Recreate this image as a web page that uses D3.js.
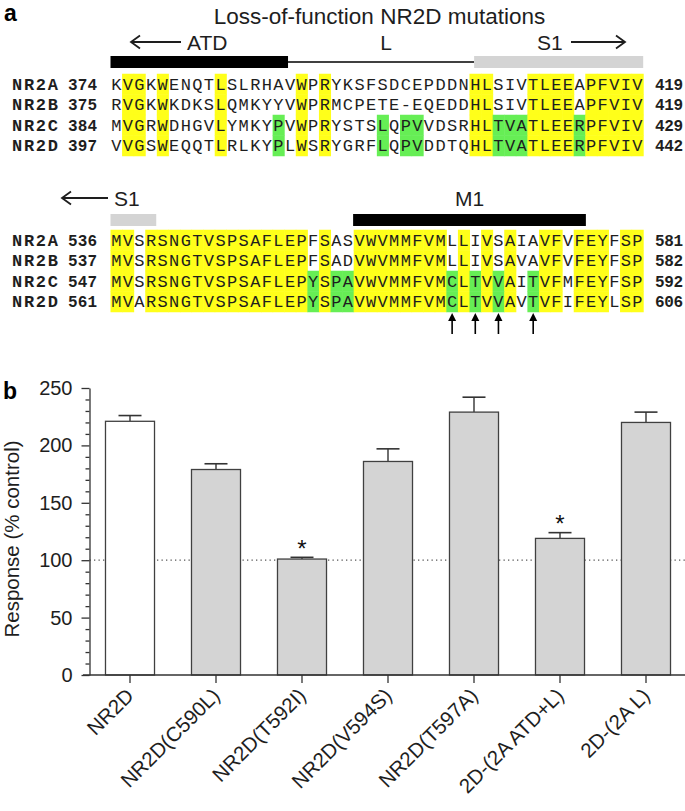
<!DOCTYPE html>
<html><head><meta charset="utf-8">
<script src="https://cdn.jsdelivr.net/npm/d3@7/dist/d3.min.js"></script>
<style>body{margin:0;background:#fff}svg{display:block}</style>
</head><body>
<svg id="c" width="685" height="811"></svg>
<script>
// ---------- DATA ----------
const rowNames = ["NR2A", "NR2B", "NR2C", "NR2D"];
const block1Starts = [374, 375, 384, 397];
const block1Ends = [419, 419, 429, 442];
const block1Seqs = [
  "KVGKWENQTLSLRHAVWPRYKSFSDCEPDDNHLSIVTLEEAPFVIV",
  "RVGKWKDKSLQMKYYVWPRMCPETE-EQEDDHLSIVTLEEAPFVIV",
  "MVGRWDHGVLYMKYPVWPRYSTSLQPVVDSRHLTVATLEERPFVIV",
  "VVGSWEQQTLRLKYPLWSRYGRFLQPVDDTQHLTVATLEERPFVIV"
];
const block1Yellow = [2, 3, 5, 10, 17, 19, 32, 33, 37, 38, 39, 40, 42, 43, 44, 45, 46];
const block1Green = [15, 24, 26, 27, 34, 35, 36, 41];
const block1Domains = [
  {name: "ATD", kind: "black", from: 0, to: 15.33},
  {name: "L", kind: "line", from: 15.33, to: 31.4},
  {name: "S1", kind: "gray", from: 31.4, to: 46}
];

const block2Starts = [536, 537, 547, 561];
const block2Ends = [581, 582, 592, 606];
const block2Seqs = [
  "MVSRSNGTVSPSAFLEPFSASVWVMMFVMLLIVSAIAVFVFEYFSP",
  "MVSRSNGTVSPSAFLEPFSADVWVMMFVMLLIVSAVAVFVFEYFSP",
  "MVSRSNGTVSPSAFLEPYSPAVWVMMFVMCLTVVAITVFMFEYFSP",
  "MVARSNGTVSPSAFLEPYSPAVWVMMFVMCLTVVAVTVFIFEYLSP"
];
const block2Yellow = [1, 2, 4, 5, 6, 7, 8, 9, 10, 11, 12, 13, 14, 15, 16, 17, 19,
  22, 23, 24, 25, 26, 27, 28, 29, 31, 33, 35, 38, 39, 41, 42, 43, 45, 46];
const block2Green = [18, 20, 21, 30, 32, 34, 37];
const block2Domains = [
  {name: "S1", kind: "gray", from: 0, to: 3.95},
  {name: "M1", kind: "black", from: 20.95, to: 41.05}
];
const mutationCols = [30, 32, 34, 37];

const categories = ["NR2D", "NR2D(C590L)", "NR2D(T592I)", "NR2D(V594S)", "NR2D(T597A)", "2D-(2A ATD+L)", "2D-(2A L)"];
const responseValues = [221, 179, 101, 186, 229, 119, 220];
const responseErrors = [5, 5, 1.5, 11, 13, 5, 9];
const significant = [false, false, true, false, false, true, false];
const yTickValues = [0, 50, 100, 150, 200, 250];
const controlLevel = 100;

// ---------- STYLE ----------
const SANS = "'Liberation Sans', Arial, Helvetica, sans-serif";
const MONO = "'Liberation Mono', 'Courier New', monospace";
const YELLOW = "#ffff1a";
const GREEN = "#66ee55";
const GRAYBAR = "#d4d4d4";
const TXT = "#1e1e1e";

const svg = d3.select("#c");

// ---------- PANEL A ----------
svg.append("text").attr("x", 4).attr("y", 21).attr("font-family", SANS)
  .attr("font-weight", "bold").attr("font-size", 23).attr("fill", "#000").text("a");
svg.append("text").attr("x", 379.5).attr("y", 24).attr("text-anchor", "middle")
  .attr("font-family", SANS).attr("font-size", 22.5).attr("fill", TXT)
  .text("Loss-of-function NR2D mutations");

const colX = d3.scaleLinear().domain([0, 46]).range([110.5, 643.2]);
const cw = colX(1) - colX(0);

function arrow(g, x1, x2, y, dir) {
  g.append("line").attr("x1", x1).attr("x2", x2).attr("y1", y).attr("y2", y)
    .attr("stroke", TXT).attr("stroke-width", 1.8);
  const hx = dir < 0 ? x1 : x2;
  const s = dir < 0 ? 1 : -1;
  g.append("path").attr("d", `M${hx + s * 9},${y - 6.5}L${hx},${y}L${hx + s * 9},${y + 6.5}`)
    .attr("fill", "none").attr("stroke", TXT).attr("stroke-width", 1.8);
}

function drawBlock(seqs, starts, ends, yellow, green, rowTop, rowBottom, domains, barY) {
  const g = svg.append("g");
  const rowY = d3.scaleLinear().domain([0, 3]).range([rowTop, rowBottom]);
  const rowH = (rowBottom - rowTop) / 3;
  domains.forEach(d => {
    if (d.kind === "line") {
      g.append("line").attr("x1", colX(d.from)).attr("x2", colX(d.to))
        .attr("y1", barY + 6).attr("y2", barY + 6).attr("stroke", "#000").attr("stroke-width", 1.5);
    } else {
      g.append("rect").attr("x", colX(d.from)).attr("y", barY).attr("width", colX(d.to) - colX(d.from))
        .attr("height", 12).attr("fill", d.kind === "black" ? "#000" : GRAYBAR);
    }
  });
  seqs.forEach((s, r) => {
    const y = rowY(r);
    s.split("").forEach((ch, i) => {
      const c = i + 1;
      let fill = null;
      if (r >= 2 && green.includes(c)) fill = GREEN;
      else if (yellow.includes(c)) fill = YELLOW;
      if (fill) g.append("rect").attr("x", colX(i)).attr("y", y - rowH / 2)
        .attr("width", cw + 0.5).attr("height", rowH + 0.5).attr("fill", fill);
    });
  });
  seqs.forEach((s, r) => {
    const y = rowY(r) + 5.8;
    g.append("text").attr("x", 12).attr("y", y).attr("font-family", MONO).attr("font-weight", "bold")
      .attr("font-size", 17).attr("textLength", 46).attr("lengthAdjust", "spacing").attr("fill", TXT).text(rowNames[r]);
    g.append("text").attr("x", 68).attr("y", y).attr("font-family", MONO).attr("font-weight", "bold")
      .attr("font-size", 16).attr("textLength", 29).attr("lengthAdjust", "spacing").attr("fill", TXT).text(starts[r]);
    g.append("text").attr("x", 655).attr("y", y).attr("font-family", MONO).attr("font-weight", "bold")
      .attr("font-size", 16).attr("textLength", 28).attr("lengthAdjust", "spacing").attr("fill", TXT).text(ends[r]);
    s.split("").forEach((ch, i) => {
      g.append("text").attr("x", colX(i) + cw / 2).attr("y", y).attr("text-anchor", "middle")
        .attr("font-family", MONO).attr("font-size", 17).attr("fill", TXT).text(ch);
    });
  });
  return rowY;
}

// block 1
drawBlock(block1Seqs, block1Starts, block1Ends, block1Yellow, block1Green, 84, 145.5, block1Domains, 56);
const g1 = svg.append("g").attr("font-family", SANS).attr("font-size", 21).attr("fill", TXT);
arrow(g1, 131, 181, 42, -1);
g1.append("text").attr("x", 187).attr("y", 49.5).text("ATD");
g1.append("text").attr("x", 386).attr("y", 49.5).attr("text-anchor", "middle").text("L");
g1.append("text").attr("x", 537).attr("y", 49.5).text("S1");
arrow(g1, 571, 625, 42, 1);

// block 2
drawBlock(block2Seqs, block2Starts, block2Ends, block2Yellow, block2Green, 240, 301.5, block2Domains, 214);
const g2 = svg.append("g").attr("font-family", SANS).attr("font-size", 21).attr("fill", TXT);
arrow(g2, 62, 108, 198, -1);
g2.append("text").attr("x", 114).attr("y", 205.5).text("S1");
g2.append("text").attr("x", (colX(block2Domains[1].from) + colX(block2Domains[1].to)) / 2).attr("y", 205.5)
  .attr("text-anchor", "middle").text("M1");
mutationCols.forEach(c => {
  const x = colX(c - 1) + cw / 2;
  g2.append("line").attr("x1", x).attr("x2", x).attr("y1", 334).attr("y2", 320)
    .attr("stroke", "#000").attr("stroke-width", 1.6);
  g2.append("path").attr("d", `M${x - 4},321L${x},313L${x + 4},321Z`).attr("fill", "#000");
});

// ---------- PANEL B ----------
svg.append("text").attr("x", 3).attr("y", 399).attr("font-family", SANS)
  .attr("font-weight", "bold").attr("font-size", 23).attr("fill", "#000").text("b");

const x = d3.scaleBand().domain(categories).range([87, 689]).paddingInner(0.43).paddingOuter(0.215);
const y = d3.scaleLinear().domain([0, 250]).range([675, 388]);
const axisX = 89.5;

const gb = svg.append("g");
gb.append("line").attr("x1", axisX).attr("x2", 685).attr("y1", y(controlLevel)).attr("y2", y(controlLevel))
  .attr("stroke", "#555").attr("stroke-width", 1.2).attr("stroke-dasharray", "1.3,3.2");

categories.forEach((c, i) => {
  const cx = x(c) + x.bandwidth() / 2;
  const top = y(responseValues[i] + responseErrors[i]);
  gb.append("line").attr("x1", cx).attr("x2", cx).attr("y1", y(responseValues[i])).attr("y2", top)
    .attr("stroke", "#333").attr("stroke-width", 1.4);
  gb.append("line").attr("x1", cx - 11.5).attr("x2", cx + 11.5).attr("y1", top).attr("y2", top)
    .attr("stroke", "#333").attr("stroke-width", 1.6);
});

gb.selectAll("rect.bar").data(categories).enter().append("rect")
  .attr("x", d => x(d)).attr("width", x.bandwidth())
  .attr("y", (d, i) => y(responseValues[i]))
  .attr("height", (d, i) => y(0) - y(responseValues[i]))
  .attr("fill", (d, i) => i === 0 ? "#fff" : GRAYBAR)
  .attr("stroke", "#404040").attr("stroke-width", 1.3);

categories.forEach((c, i) => {
  if (!significant[i]) return;
  gb.append("text").attr("x", x(c) + x.bandwidth() / 2)
    .attr("y", y(responseValues[i] + responseErrors[i]) - 0.5)
    .attr("text-anchor", "middle").attr("font-family", SANS).attr("font-size", 24).attr("fill", "#111").text("*");
});

const yAxisG = svg.append("g").attr("transform", `translate(${axisX},0)`)
  .call(d3.axisLeft(y).tickValues(yTickValues).tickSize(8).tickSizeOuter(0).tickPadding(9));
svg.append("g").attr("transform", `translate(${axisX},0)`)
  .call(d3.axisLeft(y).tickValues(d3.range(0, 251, 10).filter(v => v % 50 !== 0)).tickSize(4).tickFormat(""))
  .select(".domain").remove();
svg.selectAll(".tick line, .domain").attr("stroke", "#333").attr("stroke-width", 1.3);
yAxisG.selectAll("text").attr("font-family", SANS).attr("font-size", 20).attr("fill", TXT);

svg.append("line").attr("x1", 83).attr("x2", 685).attr("y1", y(0)).attr("y2", y(0))
  .attr("stroke", "#333").attr("stroke-width", 1.4);
const xAxisG = svg.append("g").attr("transform", `translate(0,${y(0)})`)
  .call(d3.axisBottom(x).tickSize(8).tickSizeOuter(0));
xAxisG.select(".domain").remove();
xAxisG.selectAll(".tick line").attr("stroke", "#333").attr("stroke-width", 1.3);
xAxisG.selectAll("text").attr("x", 0).attr("y", 0).attr("dy", 0)
  .attr("text-anchor", "end").attr("transform", "translate(5,22) rotate(-45)")
  .attr("font-family", SANS).attr("font-size", 20.5).attr("fill", TXT);

svg.append("text").attr("transform", "translate(19,539) rotate(-90)").attr("text-anchor", "middle")
  .attr("font-family", SANS).attr("font-size", 20.5).attr("fill", TXT).text("Response (% control)");
</script>
</body></html>
